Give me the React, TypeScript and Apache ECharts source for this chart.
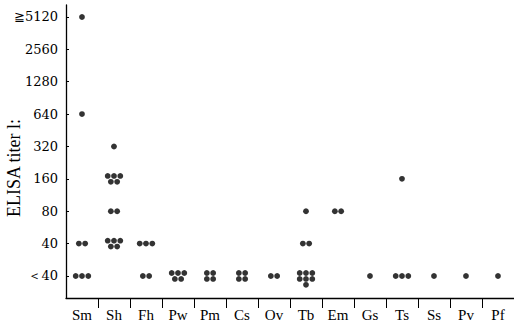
import React, { useEffect, useRef } from "react";
import * as echarts from "echarts";

const categories = ["Sm", "Sh", "Fh", "Pw", "Pm", "Cs", "Ov", "Tb", "Em", "Gs", "Ts", "Ss", "Pv", "Pf"];
const titerLabels = ["＜40", "40", "80", "160", "320", "640", "1280", "2560", "≧5120"];
const axisTitle = "ELISA titer l:";
// number of sera per titer level (index into titerLabels) for each category
const countsSm = [3, 2, 0, 0, 0, 1, 0, 0, 1];
const countsSh = [0, 5, 2, 5, 1, 0, 0, 0, 0];
const countsFh = [2, 3, 0, 0, 0, 0, 0, 0, 0];
const countsPw = [5, 0, 0, 0, 0, 0, 0, 0, 0];
const countsPm = [4, 0, 0, 0, 0, 0, 0, 0, 0];
const countsCs = [4, 0, 0, 0, 0, 0, 0, 0, 0];
const countsOv = [2, 0, 0, 0, 0, 0, 0, 0, 0];
const countsTb = [7, 2, 1, 0, 0, 0, 0, 0, 0];
const countsEm = [0, 0, 2, 0, 0, 0, 0, 0, 0];
const countsGs = [1, 0, 0, 0, 0, 0, 0, 0, 0];
const countsTs = [3, 0, 0, 1, 0, 0, 0, 0, 0];
const countsSs = [1, 0, 0, 0, 0, 0, 0, 0, 0];
const countsPv = [1, 0, 0, 0, 0, 0, 0, 0, 0];
const countsPf = [1, 0, 0, 0, 0, 0, 0, 0, 0];
const allCounts = [countsSm, countsSh, countsFh, countsPw, countsPm, countsCs, countsOv, countsTb, countsEm, countsGs, countsTs, countsSs, countsPv, countsPf];

function clusterOffsets(n: number): number[][] {
  let rows: number[];
  if (n <= 3) rows = [n];
  else if (n === 4) rows = [2, 2];
  else {
    rows = [];
    let r = n;
    while (r > 0) { rows.push(Math.min(3, r)); r -= 3; }
  }
  const out: number[][] = [];
  const dx = 6.3, dy = 5.9;
  rows.forEach((cnt, ri) => {
    const y = rows.length === 1 ? 0 : -dy / 2 + ri * dy;
    for (let i = 0; i < cnt; i++) {
      out.push([(i - (cnt - 1) / 2) * dx, y]);
    }
  });
  return out;
}

export default function App() {
  const ref = useRef<HTMLDivElement>(null);
  useEffect(() => {
    if (!ref.current) return;
    const chart = echarts.init(ref.current, null, { renderer: "svg" });
    const data: any[] = [];
    allCounts.forEach((counts, ci) => {
      counts.forEach((n, li) => {
        if (n > 0) {
          clusterOffsets(n).forEach((off) => {
            data.push({ value: [categories[ci], li], symbolOffset: off });
          });
        }
      });
    });
    const font = "'Liberation Serif', 'DejaVu Serif', serif";
    chart.setOption({
      animation: false,
      backgroundColor: "#ffffff",
      grid: { left: 66, top: 5, width: 448, bottom: 25, containLabel: false, outerBoundsMode: "none" },
      graphic: [
        {
          type: "text",
          x: 14,
          y: 168,
          rotation: Math.PI / 2,
          style: {
            text: axisTitle,
            fill: "#000",
            font: "18px 'Liberation Serif', serif",
            align: "center",
            verticalAlign: "middle",
          },
        },
      ],
      xAxis: [
        {
          type: "category",
          data: categories,
          boundaryGap: true,
          axisLine: { onZero: false, lineStyle: { color: "#000", width: 1.3 } },
          axisTick: { inside: true, length: 11, lineStyle: { color: "#000", width: 1 } },
          axisLabel: { color: "#000", fontFamily: font, fontSize: 15, margin: 9 },
          splitLine: { show: false },
        },
        {
          type: "value",
          position: "bottom",
          min: 0,
          max: 14,
          axisLine: { show: false, onZero: false },
          axisTick: { show: true, inside: false, length: 10, customValues: [1, 2, 3, 4, 5, 6, 7, 8, 9, 10, 11, 12, 13], lineStyle: { color: "#000", width: 1 } },
          axisLabel: { show: false },
          splitLine: { show: false },
        },
      ],
      yAxis: {
        type: "value",
        min: -0.68,
        max: 8.37,
        axisLine: { show: true, onZero: false, lineStyle: { color: "#000", width: 1.3 } },
        axisTick: { show: true, inside: true, length: 3, customValues: [0, 1, 2, 3, 4, 5, 6, 7, 8], lineStyle: { color: "#000" } },
        axisLabel: {
          color: "#000",
          fontFamily: "'DejaVu Serif', 'Liberation Serif', serif",
          fontSize: 13,
          margin: 8,
          customValues: [0, 1, 2, 3, 4, 5, 6, 7, 8],
          formatter: (v: number) => titerLabels[Math.round(v)] ?? "",
        },
        splitLine: { show: false },
      },
      series: [
        {
          type: "scatter",
          xAxisIndex: 0,
          symbol: "circle",
          symbolSize: 5.8,
          itemStyle: { color: "#000" },
          data,
        },
      ],
    });
    return () => chart.dispose();
  }, []);
  return <div ref={ref} style={{ width: 514, height: 323, position: "absolute", left: 0, top: 0 }} />;
}
